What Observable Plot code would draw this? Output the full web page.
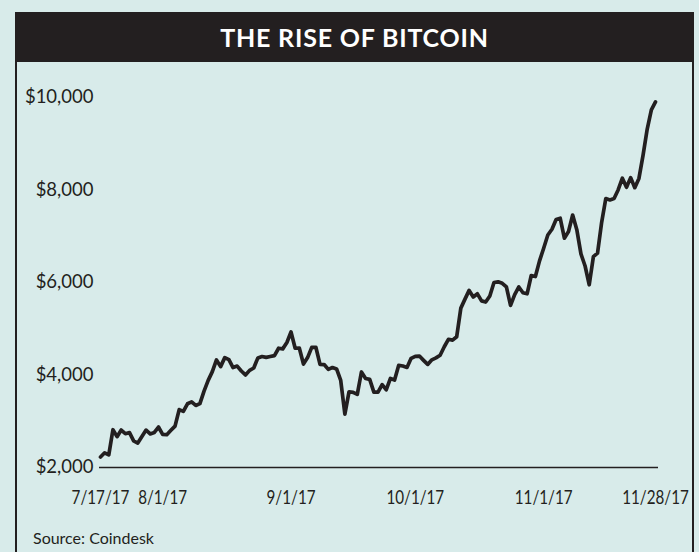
<!DOCTYPE html>
<html>
<head>
<meta charset="utf-8">
<script src="https://cdn.jsdelivr.net/npm/d3@7"></script>
<script src="https://cdn.jsdelivr.net/npm/@observablehq/plot@0.6"></script>
<style>
  html, body { margin: 0; padding: 0; }
  body { width: 699px; height: 552px; background: #d8ebea; position: relative; overflow: hidden; font-family: Lato, "Open Sans", sans-serif; color: #231f20; }
  #frame { position: absolute; left: 15px; top: 12px; width: 679px; height: 560px; box-sizing: border-box; border-left: 2px solid #231f20; border-right: 2px solid #231f20; }
  #title { position: absolute; left: 15px; top: 12px; width: 679px; height: 50px; background: #231f20; color: #fff; font-weight: 700; font-size: 25px; letter-spacing: 0.8px; line-height: 50px; text-align: center; }
  #chart { position: absolute; left: 0; top: 62px; }
  #source { position: absolute; left: 33px; top: 530px; font-size: 16px; line-height: 1; }
</style>
</head>
<body>
<div id="frame"></div>
<div id="title">THE RISE OF BITCOIN</div>
<div id="chart"></div>
<div id="source">Source: Coindesk</div>
<script>
// Bitcoin daily price (USD), 7/17/17 – 11/28/17
const startDate = "2017-07-17";
const july = [2228, 2318, 2273, 2817, 2667, 2810, 2730, 2754, 2576, 2529, 2671, 2809, 2726, 2757, 2875];
const august = [2718, 2710, 2804, 2895, 3252, 3213, 3378, 3419, 3342, 3381, 3650, 3884, 4073, 4325, 4181, 4376, 4331, 4160, 4193, 4087, 4001, 4100, 4151, 4370, 4400, 4380, 4400, 4420, 4579, 4565, 4703];
const september = [4930, 4578, 4582, 4236, 4376, 4597, 4599, 4229, 4226, 4122, 4161, 4130, 3882, 3154, 3637, 3625, 3582, 4065, 3924, 3905, 3631, 3630, 3792, 3682, 3926, 3892, 4209, 4195, 4164, 4360];
const october = [4403, 4409, 4317, 4229, 4328, 4370, 4426, 4611, 4772, 4754, 4826, 5446, 5640, 5829, 5687, 5755, 5603, 5577, 5707, 5999, 6015, 5983, 5904, 5505, 5737, 5903, 5779, 5756, 6151, 6129, 6468];
const november = [6741, 7026, 7152, 7363, 7389, 6959, 7102, 7459, 7143, 6618, 6357, 5950, 6559, 6635, 7301, 7815, 7786, 7817, 8007, 8255, 8059, 8268, 8050, 8250, 8753, 9318, 9733, 9906];

const xTickLabels = ["2017-07-17", "2017-08-01", "2017-09-01", "2017-10-01", "2017-11-01", "2017-11-28"];
const yTicks = [2000, 4000, 6000, 8000, 10000];

const prices = [...july, ...august, ...september, ...october, ...november];
const start = new Date(startDate + "T00:00:00Z");
const data = prices.map((price, i) => ({ date: d3.utcDay.offset(start, i), price }));
const xTicks = xTickLabels.map(s => new Date(s + "T00:00:00Z"));

const chart = Plot.plot({
  width: 699,
  height: 460,
  marginLeft: 100,
  marginRight: 44,
  marginTop: 35,
  marginBottom: 55,
  style: { background: "transparent", fontFamily: "Lato, 'Open Sans', sans-serif", fontSize: "18.5px", color: "#231f20", overflow: "visible" },
  x: { type: "utc", domain: [data[0].date, data[data.length - 1].date] },
  y: { domain: [2000, 10000] },
  marks: [
    Plot.axisX(xTicks, {
      tickFormat: d3.utcFormat("%-m/%-d/%y"),
      tickSize: 0,
      tickPadding: 22.5,
      fontSize: 19,
      label: null
    }),
    Plot.axisY(yTicks, {
      tickFormat: d => "$" + d3.format(",")(d),
      tickSize: 0,
      tickPadding: 7,
      label: null
    }),
    Plot.ruleY([2000], { stroke: "#231f20", strokeWidth: 1.5, insetLeft: -1, insetRight: -3 }),
    Plot.lineY(data, { x: "date", y: "price", stroke: "#231f20", strokeWidth: 3.7, strokeLinejoin: "round", strokeLinecap: "round" })
  ]
});
document.getElementById("chart").appendChild(chart);

// The reference uses a condensed face for the date labels: compress them horizontally.
chart.querySelectorAll('g[aria-label="x-axis tick label"] text').forEach(t => {
  const w = t.getComputedTextLength();
  t.setAttribute("lengthAdjust", "spacingAndGlyphs");
  t.setAttribute("textLength", (w * 0.8).toFixed(1));
});
</script>
</body>
</html>
